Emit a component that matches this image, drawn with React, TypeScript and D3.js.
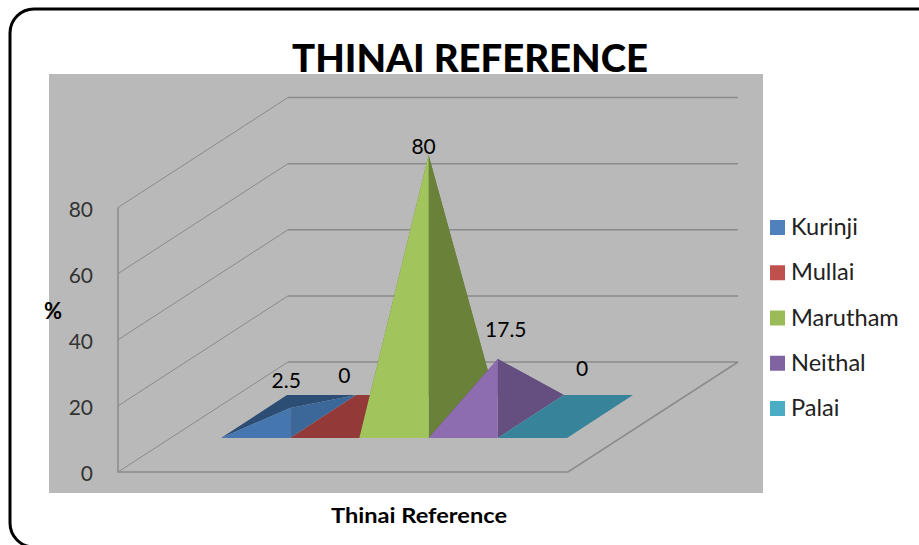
import React from "react";
import * as d3 from "d3";

// Thinai reference shares, in percent
const categories = ["Kurinji", "Mullai", "Marutham", "Neithal", "Palai"];
const values = [2.5, 0, 80, 17.5, 0];
const valueLabels = ["2.5", "0", "80", "17.5", "0"];
const yTicks = [0, 20, 40, 60, 80];
const legendColors = ["#4f81bd", "#c0504d", "#9bbb59", "#8064a2", "#4bacc6"];
const frontShades = ["#4676b0", "#933a38", "#a2c45c", "#8d6cb0", "#37839a"];
const sideShades = ["#3c6799", "#933a38", "#698139", "#654f80", "#37839a"];
const backShades = ["#2d4e74", "#933a38", "#698139", "#654f80", "#37839a"];

const FONT = "Lato, 'Open Sans', sans-serif";
const GRID = "#8b8b8b";

// Oblique projection of the 3D box
const floorFront = 472;
const wallDepth = { x: 170, y: -110 };
const wallLeft = 118;
const wallWidth = 450;
const wallY = d3.scaleLinear().domain([0, 80]).range([floorFront, 207.5]);

// Series strip on the floor, and the height of each pyramid's apex
const stripFront = 438;
const stripDepth = { x: 66, y: -43 };
const stripX = d3.scaleLinear().domain([0, 5]).range([221, 567]);
const apexY = d3.scaleLinear().domain([0, 80]).range([416.2, 155]);

// Where each value label sits relative to its series' right front corner
const labelOffsets = [
  [-4, -50],
  [-15, -55],
  [-5, -284],
  [8, -101],
  [15, -62],
];

const path = d3.line<[number, number]>();

function seriesFaces(i: number) {
  const left = stripX(i);
  const right = stripX(i + 1);
  const v = values[i];
  const apex: [number, number] = [right, v > 0 ? apexY(v) : stripFront];
  const backY = stripFront + stripDepth.y;
  return {
    back: [
      [left, stripFront],
      [left + stripDepth.x, backY],
      [right + stripDepth.x, backY],
      apex,
    ] as [number, number][],
    front: [[left, stripFront], [right, stripFront], apex] as [number, number][],
    side: [[right, stripFront], [right + stripDepth.x, backY], apex] as [number, number][],
  };
}

export default function App() {
  const plot = { x: 49, y: 74, w: 714, h: 419 };
  const legendY = d3.scalePoint<string>().domain(categories).range([228, 409]);
  return (
    <svg
      width={919}
      height={545}
      style={{ position: "absolute", left: 0, top: 0, background: "#fff" }}
      fontFamily={FONT}
    >
      <rect x={10} y={9} width={1000} height={538} rx={24} fill="#fff" stroke="#000" strokeWidth={3} />
      <rect x={plot.x} y={plot.y} width={plot.w} height={plot.h} fill="#b9b9b9" />

      <text x={470} y={72} fontSize={38} fontWeight={900} textAnchor="middle" textLength={356} lengthAdjust="spacingAndGlyphs">
        THINAI REFERENCE
      </text>

      {/* Side wall, back wall and floor */}
      {yTicks.map((t) => {
        const y = wallY(t);
        return (
          <g key={t}>
            <path
              d={path([
                [wallLeft, y],
                [wallLeft + wallDepth.x, y + wallDepth.y],
              ]) ?? ""}
              fill="none"
              stroke={GRID}
              strokeWidth={1}
            />
            <path
              d={path([
                [wallLeft + wallDepth.x, y + wallDepth.y],
                [wallLeft + wallDepth.x + wallWidth, y + wallDepth.y],
              ]) ?? ""}
              fill="none"
              stroke={GRID}
              strokeWidth={1.5}
            />
            <text x={93} y={y + 9} fontSize={21} fill="#333" textAnchor="end">
              {t}
            </text>
          </g>
        );
      })}
      <path
        d={path([
          [wallLeft, wallY(80)],
          [wallLeft, floorFront],
          [wallLeft + wallWidth, floorFront],
          [wallLeft + wallWidth + wallDepth.x, floorFront + wallDepth.y],
        ]) ?? ""}
        fill="none"
        stroke={GRID}
        strokeWidth={1.5}
      />

      {/* Pyramids, drawn left to right so each overlaps the previous one */}
      {categories.map((c, i) => {
        const faces = seriesFaces(i);
        return (
          <g key={c}>
            <path d={`${path(faces.back)}Z`} fill={backShades[i]} />
            <path d={`${path(faces.side)}Z`} fill={sideShades[i]} />
            <path d={`${path(faces.front)}Z`} fill={frontShades[i]} />
          </g>
        );
      })}

      {/* Value labels */}
      {categories.map((c, i) => (
        <text
          key={c}
          x={stripX(i + 1) + labelOffsets[i][0]}
          y={stripFront + labelOffsets[i][1]}
          fontSize={21}
          fill="#000"
          textAnchor="middle"
        >
          {valueLabels[i]}
        </text>
      ))}

      <text x={53} y={319} fontSize={22} fontWeight={700} textAnchor="middle">
        %
      </text>
      <text x={419} y={523} fontSize={21} fontWeight={700} textAnchor="middle" textLength={176} lengthAdjust="spacingAndGlyphs">
        Thinai Reference
      </text>

      {/* Legend */}
      {categories.map((c, i) => {
        const y = legendY(c) ?? 0;
        return (
          <g key={c}>
            <rect x={770} y={y - 8} width={15} height={15} fill={legendColors[i]} />
            <text x={791} y={y + 7} fontSize={23.6} fill="#222">
              {c}
            </text>
          </g>
        );
      })}
    </svg>
  );
}
